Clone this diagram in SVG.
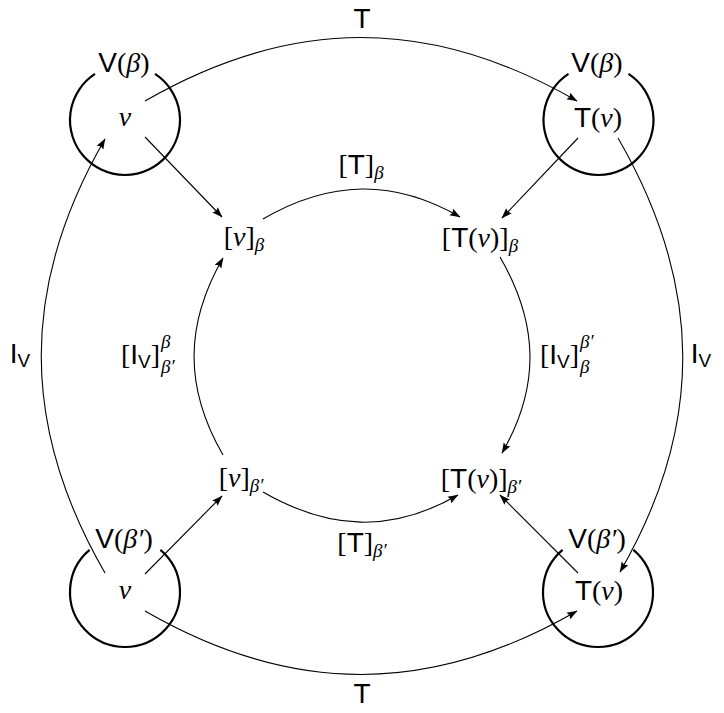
<svg xmlns="http://www.w3.org/2000/svg" width="724" height="713" viewBox="0 0 724 713">
<style>
  text { font-family: "Liberation Sans", "DejaVu Sans", sans-serif; font-size: 28px; text-anchor: middle; fill: #000; }
  .st { text-anchor: start; }
  .rm { font-family: "Liberation Serif", "DejaVu Serif", serif; font-style: normal; }
  .it { font-family: "Liberation Serif", "DejaVu Serif", serif; font-style: italic; }
  .sub { font-size: 19px; }
  .ring { fill: none; stroke: #000; stroke-width: 2.2; }
  .edge { fill: none; stroke: #000; stroke-width: 1.1; marker-end: url(#ah); }
</style>
<defs>
  <marker id="ah" viewBox="-11 -5 12 10" refX="0" refY="0" markerWidth="12" markerHeight="10" markerUnits="userSpaceOnUse" orient="auto">
    <path d="M0.5,0 L-10,-3.8 L-8.5,0 L-10,3.8 Z" fill="#000"/>
  </marker>
</defs>
<rect width="724" height="713" fill="#fff"/>

<g id="n-tl">
  <path class="ring" d="M155,73.9 A55,55 0 1 1 95,73.9"/>
  <text x="124" y="72">V<tspan class="rm">(</tspan><tspan class="it">β</tspan><tspan class="rm">)</tspan></text>
  <text class="it" x="125" y="126">v</text>
</g>
<g id="n-tr">
  <path class="ring" d="M628.5,73.9 A55,55 0 1 1 568.5,73.9"/>
  <text x="597" y="72">V<tspan class="rm">(</tspan><tspan class="it">β</tspan><tspan class="rm">)</tspan></text>
  <text x="598" y="127">T<tspan class="rm">(</tspan><tspan class="it">v</tspan><tspan class="rm">)</tspan></text>
</g>
<g id="n-bl">
  <path class="ring" d="M160.4,549.9 A55,55 0 1 1 89.6,549.9"/>
  <text x="124" y="548">V<tspan class="rm">(</tspan><tspan class="it">β′</tspan><tspan class="rm">)</tspan></text>
  <text class="it" x="125" y="599">v</text>
</g>
<g id="n-br">
  <path class="ring" d="M633.4,549.9 A55,55 0 1 1 562.6,549.9"/>
  <text x="597" y="548">V<tspan class="rm">(</tspan><tspan class="it">β′</tspan><tspan class="rm">)</tspan></text>
  <text x="599" y="600">T<tspan class="rm">(</tspan><tspan class="it">v</tspan><tspan class="rm">)</tspan></text>
</g>

<g id="n-vb">
  <text x="244" y="246"><tspan class="rm">[</tspan><tspan class="it">v</tspan><tspan class="rm">]</tspan><tspan class="it sub" dy="5">β</tspan></text>
</g>
<g id="n-tvb">
  <text x="480" y="247"><tspan class="rm">[</tspan>T<tspan class="rm">(</tspan><tspan class="it">v</tspan><tspan class="rm">)]</tspan><tspan class="it sub" dy="5">β</tspan></text>
</g>
<g id="n-vbp">
  <text x="241" y="487"><tspan class="rm">[</tspan><tspan class="it">v</tspan><tspan class="rm">]</tspan><tspan class="it sub" dy="5">β′</tspan></text>
</g>
<g id="n-tvbp">
  <text x="481" y="488"><tspan class="rm">[</tspan>T<tspan class="rm">(</tspan><tspan class="it">v</tspan><tspan class="rm">)]</tspan><tspan class="it sub" dy="5">β′</tspan></text>
</g>

<g id="connectors">
  <path class="edge" d="M145,101 C291.5,16.4 430.5,16.4 577,101"/>
  <path class="edge" d="M145,611 C291.5,695.6 430.5,695.6 577,611"/>
  <path class="edge" d="M105,573 C20,425.9 20,286.1 105,139"/>
  <path class="edge" d="M618,138 C703,285 705,425 620,572"/>
  <path class="edge" d="M263,219 C329.8,180.4 393.2,178.4 460,217"/>
  <path class="edge" d="M263,492 C329.2,530.2 391.8,533.2 458,495"/>
  <path class="edge" d="M223,455 C184.4,388.2 184.4,324.8 223,258"/>
  <path class="edge" d="M500,257 C538.6,323.8 540.6,386.2 502,453"/>
  <path class="edge" d="M145,137 L222,217"/>
  <path class="edge" d="M578,138 L502,218"/>
  <path class="edge" d="M145,574 L222,496"/>
  <path class="edge" d="M578,573 L500,495"/>
</g>

<g id="edge-labels">
  <text x="362" y="28">T</text>
  <text x="362" y="703">T</text>
  <text x="20" y="363">I<tspan class="sub" dy="4">V</tspan></text>
  <text x="701" y="363">I<tspan class="sub" dy="4">V</tspan></text>
  <text x="361" y="174"><tspan class="rm">[</tspan>T<tspan class="rm">]</tspan><tspan class="it sub" dy="5">β</tspan></text>
  <text x="362" y="552"><tspan class="rm">[</tspan>T<tspan class="rm">]</tspan><tspan class="it sub" dy="5">β′</tspan></text>
  <text class="st" x="121" y="364"><tspan class="rm">[</tspan>I<tspan class="sub" dy="4">V</tspan><tspan class="rm" dy="-4">]</tspan></text>
  <text class="st it sub" x="161" y="348">β</text>
  <text class="st it sub" x="161" y="373">β′</text>
  <text class="st" x="540" y="364"><tspan class="rm">[</tspan>I<tspan class="sub" dy="4">V</tspan><tspan class="rm" dy="-4">]</tspan></text>
  <text class="st it sub" x="580" y="348">β′</text>
  <text class="st it sub" x="580" y="373">β</text>
</g>
</svg>
